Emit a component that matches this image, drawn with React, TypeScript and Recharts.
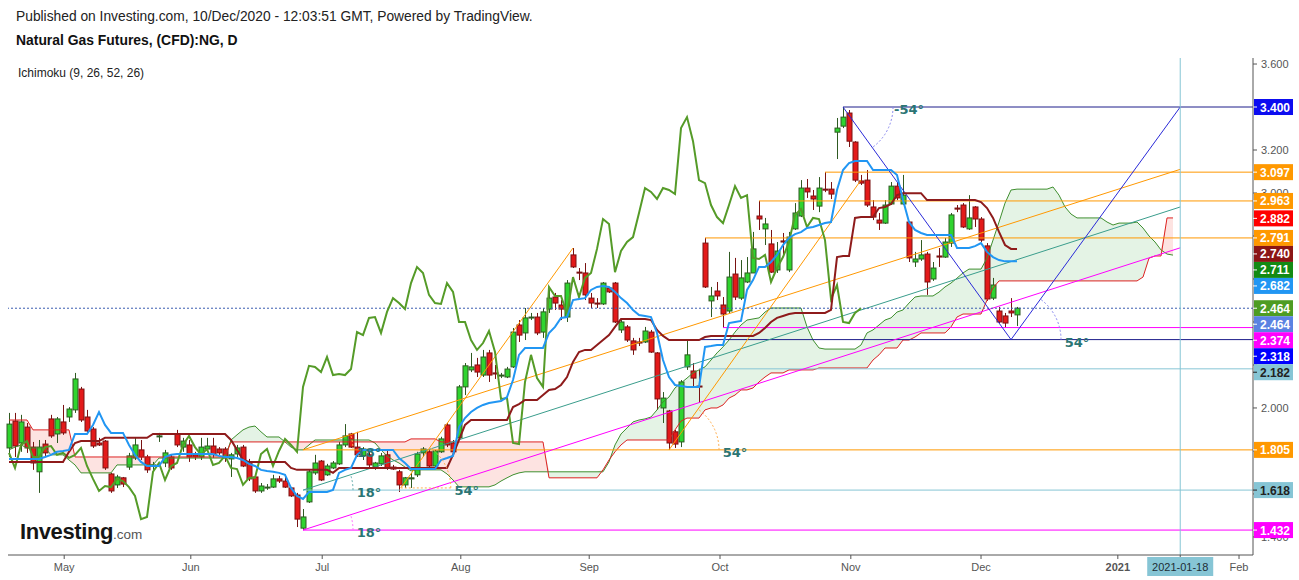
import React from 'react';
import { ComposedChart, XAxis, YAxis, Line, Area, Bar, Scatter, ReferenceLine } from 'recharts';

// ---------- candles (daily, Apr 2020 - 10 Dec 2020) ----------
const opens = [1.814,1.939,1.837,1.911,1.818,1.703,1.832,1.949,1.879,1.935,1.958,1.991,2.088,1.958,1.902,1.837,1.846,1.693,1.642,1.675,1.725,1.767,1.805,1.772,1.730,1.866,1.744,1.772,1.879,1.818,1.828,1.782,1.772,1.809,1.823,1.809,1.809,1.763,1.786,1.818,1.749,1.679,1.614,1.628,1.632,1.670,1.660,1.628,1.595,1.441,1.563,1.698,1.753,1.689,1.721,1.740,1.828,1.879,1.818,1.777,1.782,1.725,1.740,1.782,1.725,1.703,1.642,1.670,1.689,1.791,1.796,1.730,1.796,1.921,1.837,1.861,2.098,2.177,2.200,2.153,2.256,2.163,2.149,2.144,2.191,2.386,2.349,2.419,2.423,2.353,2.460,2.516,2.479,2.423,2.712,2.632,2.628,2.511,2.488,2.484,2.558,2.581,2.363,2.377,2.312,2.307,2.307,2.353,2.256,2.000,1.986,1.889,1.842,2.191,2.172,2.102,2.767,2.498,2.544,2.479,2.451,2.623,2.511,2.586,2.628,2.893,2.833,2.763,2.642,2.777,2.642,2.833,2.893,3.023,2.986,2.939,3.018,3.018,3.283,3.311,3.372,3.237,3.056,3.060,2.935,2.874,2.860,2.949,3.032,2.949,2.865,2.679,2.693,2.716,2.600,2.707,2.702,2.767,2.930,2.944,2.833,2.935,2.879,2.754,2.511,2.451,2.428,2.451,2.433];
const highs = [1.977,1.977,1.968,1.930,1.842,1.851,1.851,1.968,1.958,2.014,2.004,2.163,2.098,1.991,1.911,1.861,1.851,1.698,1.689,1.679,1.791,1.861,1.851,1.782,1.749,1.884,1.805,1.782,1.898,1.861,1.851,1.796,1.861,1.861,1.861,1.818,1.818,1.791,1.828,1.828,1.763,1.689,1.651,1.646,1.689,1.684,1.679,1.632,1.605,1.530,1.712,1.782,1.758,1.740,1.753,1.842,1.925,1.884,1.889,1.818,1.805,1.749,1.791,1.805,1.735,1.712,1.679,1.698,1.796,1.818,1.805,1.805,1.866,1.930,1.851,2.107,2.209,2.256,2.233,2.270,2.270,2.200,2.163,2.191,2.372,2.409,2.465,2.442,2.442,2.465,2.563,2.535,2.502,2.595,2.744,2.651,2.674,2.535,2.511,2.586,2.563,2.586,2.409,2.386,2.326,2.326,2.377,2.363,2.260,2.074,1.991,1.898,2.130,2.318,2.209,2.182,2.791,2.563,2.586,2.516,2.726,2.698,2.688,2.702,2.819,2.963,2.884,2.828,2.772,2.814,2.819,2.953,3.060,3.065,3.014,3.074,3.097,3.051,3.349,3.400,3.386,3.241,3.084,3.107,2.967,2.907,2.967,3.051,3.051,3.084,2.870,2.726,2.781,2.726,2.679,2.744,2.791,2.907,2.944,2.953,2.990,2.939,2.888,2.767,2.605,2.470,2.442,2.511,2.470];
const lows = [1.772,1.772,1.796,1.791,1.712,1.605,1.772,1.861,1.837,1.875,1.935,1.977,1.935,1.884,1.814,1.823,1.712,1.605,1.628,1.632,1.712,1.758,1.758,1.698,1.712,1.842,1.725,1.712,1.818,1.796,1.749,1.758,1.758,1.800,1.768,1.782,1.749,1.679,1.772,1.725,1.660,1.605,1.605,1.619,1.628,1.651,1.628,1.586,1.446,1.432,1.558,1.689,1.660,1.684,1.716,1.735,1.818,1.814,1.772,1.758,1.725,1.712,1.730,1.712,1.712,1.609,1.628,1.628,1.679,1.772,1.721,1.721,1.791,1.818,1.791,1.851,2.060,2.167,2.144,2.144,2.121,2.135,2.139,2.139,2.186,2.307,2.316,2.409,2.339,2.326,2.442,2.456,2.409,2.400,2.651,2.595,2.502,2.465,2.465,2.479,2.535,2.395,2.349,2.307,2.247,2.288,2.302,2.256,1.991,1.930,1.805,1.814,1.818,2.177,2.098,2.028,2.558,2.423,2.502,2.374,2.442,2.502,2.502,2.581,2.628,2.828,2.758,2.628,2.628,2.702,2.632,2.828,2.888,2.977,2.921,2.911,3.004,2.972,3.158,3.302,3.214,3.051,3.037,2.935,2.874,2.828,2.856,2.944,2.967,2.944,2.679,2.656,2.684,2.526,2.591,2.656,2.698,2.749,2.911,2.837,2.828,2.842,2.772,2.498,2.502,2.395,2.372,2.423,2.381];
const closes = [1.925,1.823,1.935,1.814,1.744,1.818,1.791,1.870,1.949,1.884,1.995,2.135,1.944,1.893,1.823,1.828,1.721,1.614,1.679,1.646,1.777,1.828,1.772,1.712,1.735,1.870,1.791,1.721,1.828,1.846,1.772,1.772,1.818,1.823,1.782,1.791,1.768,1.782,1.814,1.730,1.670,1.614,1.637,1.632,1.670,1.660,1.632,1.591,1.483,1.493,1.703,1.744,1.665,1.730,1.744,1.828,1.870,1.818,1.782,1.809,1.735,1.744,1.777,1.721,1.716,1.642,1.675,1.675,1.786,1.809,1.730,1.800,1.856,1.828,1.796,2.098,2.196,2.191,2.167,2.237,2.153,2.158,2.153,2.181,2.353,2.339,2.419,2.423,2.349,2.447,2.511,2.488,2.460,2.581,2.656,2.628,2.526,2.488,2.484,2.581,2.540,2.400,2.400,2.316,2.270,2.302,2.358,2.260,2.042,2.046,1.837,1.832,2.121,2.247,2.139,2.098,2.563,2.521,2.521,2.437,2.609,2.516,2.605,2.628,2.740,2.879,2.856,2.632,2.730,2.772,2.795,2.907,3.023,3.005,2.972,3.023,3.014,2.995,3.302,3.353,3.241,3.060,3.046,2.944,2.888,2.860,2.944,3.032,2.977,2.990,2.698,2.693,2.712,2.586,2.651,2.702,2.772,2.898,2.925,2.842,2.884,2.879,2.781,2.507,2.572,2.400,2.395,2.442,2.464];

// ---------- Ichimoku lines: [value, number of bars] ----------
const tenkanRuns: [number, number][] = [[1.763,6],[1.772,1],[1.782,1],[1.796,1],[1.800,1],[1.805,1],[1.879,3],[1.921,1],[1.981,1],[1.921,1],[1.884,3],[1.828,1],[1.782,1],[1.749,1],[1.730,3],[1.772,1],[1.782,1],[1.786,7],[1.777,1],[1.772,2],[1.767,1],[1.758,1],[1.740,1],[1.730,1],[1.712,1],[1.707,1],[1.703,1],[1.698,1],[1.689,1],[1.628,1],[1.591,1],[1.577,1],[1.609,4],[1.619,1],[1.698,1],[1.712,1],[1.721,1],[1.782,1],[1.805,6],[1.767,1],[1.744,1],[1.716,5],[1.758,1],[1.767,1],[1.777,1],[1.911,1],[1.953,1],[1.981,1],[2.000,1],[2.014,1],[2.023,1],[2.028,1],[2.032,1],[2.051,1],[2.130,1],[2.247,1],[2.279,4],[2.349,1],[2.377,1],[2.419,1],[2.423,1],[2.502,1],[2.507,1],[2.511,1],[2.549,1],[2.563,1],[2.567,1],[2.563,1],[2.540,1],[2.511,1],[2.488,1],[2.456,1],[2.432,1],[2.428,1],[2.423,1],[2.349,1],[2.223,1],[2.144,1],[2.107,1],[2.102,1],[2.098,3],[2.284,1],[2.288,1],[2.293,2],[2.395,1],[2.400,1],[2.405,1],[2.549,1],[2.595,1],[2.656,2],[2.679,1],[2.712,1],[2.758,1],[2.791,1],[2.809,1],[2.818,1],[2.837,1],[2.842,1],[2.851,1],[2.860,1],[2.865,1],[3.014,1],[3.107,1],[3.139,1],[3.149,3],[3.107,4],[3.084,1],[2.967,1],[2.865,1],[2.828,1],[2.814,1],[2.805,5],[2.744,3],[2.753,1],[2.767,1],[2.726,1],[2.702,1],[2.688,1],[2.682,3]];
const kijunRuns: [number, number][] = [[1.749,10],[1.796,1],[1.837,1],[1.846,4],[1.861,8],[1.879,13],[1.851,1],[1.805,1],[1.758,1],[1.749,7],[1.721,1],[1.712,6],[1.698,1],[1.721,19],[1.782,1],[1.851,1],[1.921,1],[1.944,7],[2.004,1],[2.018,1],[2.037,3],[2.060,1],[2.084,1],[2.088,1],[2.107,1],[2.144,1],[2.214,1],[2.260,1],[2.270,2],[2.293,1],[2.316,1],[2.339,1],[2.377,1],[2.414,5],[2.409,1],[2.363,1],[2.335,1],[2.316,6],[2.330,1],[2.335,8],[2.349,1],[2.372,1],[2.400,1],[2.419,1],[2.428,1],[2.437,1],[2.442,6],[2.456,1],[2.702,1],[2.707,2],[2.884,1],[2.888,3],[2.930,1],[2.935,1],[2.949,1],[2.990,1],[2.999,4],[2.967,9],[2.958,1],[2.930,1],[2.884,1],[2.819,1],[2.758,1],[2.740,2]];
const senkouARuns: [number, number][] = [[1.805,1],[1.818,1],[1.828,1],[1.814,4],[1.782,3],[1.758,1],[1.735,1],[1.698,6],[1.735,7],[1.767,12],[1.851,1],[1.875,1],[1.898,1],[1.911,1],[1.916,1],[1.889,1],[1.865,3],[1.842,1],[1.818,1],[1.805,2],[1.828,1],[1.851,10],[1.837,1],[1.805,1],[1.777,1],[1.758,1],[1.744,1],[1.725,1],[1.707,1],[1.712,5],[1.693,1],[1.665,1],[1.633,6],[1.642,1],[1.660,1],[1.675,1],[1.689,1],[1.698,1],[1.703,14],[1.749,1],[1.828,1],[1.879,1],[1.907,1],[1.935,1],[1.944,1],[1.949,1],[1.958,1],[1.991,1],[2.028,1],[2.051,1],[2.093,1],[2.116,1],[2.139,1],[2.163,1],[2.177,1],[2.191,1],[2.223,1],[2.256,1],[2.284,1],[2.316,1],[2.353,1],[2.386,1],[2.409,1],[2.414,1],[2.419,1],[2.446,1],[2.465,6],[2.377,1],[2.316,1],[2.279,1],[2.274,6],[2.293,1],[2.349,1],[2.363,1],[2.386,1],[2.409,1],[2.419,1],[2.446,1],[2.456,1],[2.488,1],[2.516,1],[2.521,3],[2.539,1],[2.563,1],[2.581,1],[2.604,1],[2.628,1],[2.646,3],[2.697,1],[2.781,1],[2.865,1],[2.953,1],[3.014,1],[3.018,6],[3.028,1],[2.990,1],[2.935,1],[2.902,1],[2.884,5],[2.865,1],[2.851,1],[2.860,3],[2.865,1],[2.837,1],[2.800,1],[2.772,1],[2.735,1],[2.716,1],[2.711,1]];
const senkouBRuns: [number, number][] = [[1.944,4],[1.898,7],[1.772,26],[1.842,30],[1.856,5],[1.842,18],[1.675,9],[1.712,1],[1.758,1],[1.796,1],[1.828,1],[1.851,8],[1.898,1],[1.939,1],[1.953,3],[1.991,1],[2.000,2],[2.014,1],[2.046,1],[2.060,1],[2.084,2],[2.093,1],[2.121,1],[2.144,1],[2.163,3],[2.177,5],[2.186,9],[2.223,1],[2.247,1],[2.279,3],[2.316,2],[2.330,1],[2.349,5],[2.377,1],[2.423,1],[2.437,4],[2.502,1],[2.558,1],[2.591,24],[2.609,1],[2.697,1],[2.707,2],[2.884,2]];
const CHIKOU_SHIFT = 26;
const CLOUD_BARS = 195;

// ---------- axes ----------
const xTickPos = [9.2, 30.3, 52.2, 75.3, 96.7, 118.5, 140.3, 162, 184.8, 195.2, 205];
const xTickLabels = ['May', 'Jun', 'Jul', 'Aug', 'Sep', 'Oct', 'Nov', 'Dec', '2021', '2021-01-18', 'Feb'];
const yTicks = [1.4, 1.6, 1.8, 2.0, 2.2, 2.4, 2.6, 2.8, 3.0, 3.2, 3.4, 3.6];
// tick labels that the price tags leave visible on the price scale
const yTickLabels = ['1.400', '', '', '2.000', '', '', '', '', '3.000', '3.200', '', '3.600'];
const X_MIN = -0.1667;
const X_MAX = 207.33;
const Y_MIN = 1.316;
const Y_MAX = 3.628;
const MARK_DATE = 195.2;
const LAST_PRICE = 2.464;

// ---------- drawings ----------
const ORANGE = '#ff9800';
const NAVY = '#1c1c8a';
const BLUE = '#2a2ad8';
const MAGENTA = '#ff00ff';
const CYAN = '#86c5d5';
const TEAL = '#3a9d8c';
const FONT = "Arial, 'Liberation Sans', sans-serif";

const levels = [
  { from: 139, price: 3.4, color: NAVY },
  { from: 136, price: 3.097, color: ORANGE },
  { from: 125, price: 2.963, color: ORANGE },
  { from: 116, price: 2.791, color: ORANGE },
  { from: 119, price: 2.374, color: MAGENTA },
  { from: 113, price: 2.318, color: NAVY },
  { from: 115, price: 2.182, color: CYAN },
  { from: 49, price: 1.805, color: ORANGE },
  { from: 49, price: 1.618, color: CYAN },
  { from: 49, price: 1.432, color: MAGENTA },
];
const trendLines = [
  { x1: 49, y1: 1.432, x2: 195.2, y2: 2.745, color: MAGENTA },
  { x1: 49, y1: 1.618, x2: 195.2, y2: 2.935, color: TEAL },
  { x1: 49, y1: 1.805, x2: 195.2, y2: 3.11, color: ORANGE },
  { x1: 65.3, y1: 1.628, x2: 94, y2: 2.744, color: ORANGE },
  { x1: 110, y1: 1.805, x2: 142, y2: 3.06, color: ORANGE },
  { x1: 139, y1: 3.4, x2: 167, y2: 2.318, color: BLUE },
  { x1: 167, y1: 2.318, x2: 195.2, y2: 3.4, color: BLUE },
];
const angleMarks = [
  { i: 49, p: 1.432, deg: 18, text: '18°', arc: '#ff77ff', base: false },
  { i: 49, p: 1.618, deg: 18, text: '18°', arc: '#66b0b0', base: false },
  { i: 49, p: 1.805, deg: 18, text: '18°', arc: '#ffb050', base: false },
  { i: 65.3, p: 1.628, deg: 54, text: '54°', arc: '#ffb050', base: true },
  { i: 110, p: 1.805, deg: 54, text: '54°', arc: '#ffb050', base: false },
  { i: 139, p: 3.4, deg: -54, text: '-54°', arc: '#8a8aee', base: false },
  { i: 167, p: 2.318, deg: 54, text: '54°', arc: '#8a8aee', base: false },
];
const priceTags = [
  { v: 3.4, bg: '#0c0cf0', fg: '#fff' },
  { v: 3.097, bg: '#ff9800', fg: '#fff' },
  { v: 2.963, bg: '#ff9800', fg: '#fff' },
  { v: 2.882, bg: '#ff0000', fg: '#fff' },
  { v: 2.791, bg: '#ff9800', fg: '#fff' },
  { v: 2.74, bg: '#8b1515', fg: '#fff' },
  { v: 2.711, bg: '#138a13', fg: '#fff' },
  { v: 2.682, bg: '#2196f3', fg: '#fff' },
  { v: 2.464, bg: '#4e9c22', fg: '#fff' },
  { v: 2.464, bg: '#5b82e2', fg: '#fff' },
  { v: 2.374, bg: '#ff00ff', fg: '#fff' },
  { v: 2.318, bg: '#0000ff', fg: '#fff' },
  { v: 2.182, bg: '#86c5d5', fg: '#222' },
  { v: 1.805, bg: '#ff9800', fg: '#fff' },
  { v: 1.618, bg: '#86c5d5', fg: '#222' },
  { v: 1.432, bg: '#ff00ff', fg: '#fff' },
];

// ---------- table built from the arrays ----------
const expand = (runs: [number, number][]) => runs.flatMap(([v, n]) => Array(n).fill(v) as number[]);
const tenkan = expand(tenkanRuns);
const kijun = expand(kijunRuns);
const spanA = expand(senkouARuns);
const spanB = expand(senkouBRuns);

const rows = Array.from({ length: CLOUD_BARS }, (_, i) => {
  const has = i < opens.length;
  const a = spanA[i];
  const b = spanB[i];
  const ok = a != null && b != null;
  return {
    i,
    o: has ? opens[i] : undefined,
    h: has ? highs[i] : undefined,
    l: has ? lows[i] : undefined,
    c: has ? closes[i] : undefined,
    range: has ? [lows[i], highs[i]] : undefined,
    tenkan: tenkan[i],
    kijun: kijun[i],
    chikou: i + CHIKOU_SHIFT < closes.length ? closes[i + CHIKOU_SHIFT] : undefined,
    spanA: a,
    spanB: b,
    cloudUp: ok ? [b, Math.max(a, b)] : undefined,
    cloudDown: ok ? [a, Math.max(a, b)] : undefined,
  };
});

const tagRows = priceTags.map((t, k) => ({ ...t, k, i: X_MAX, p: t.v }));
const yTickRows = yTicks.map((v, k) => ({ i: X_MAX, p: v, label: yTickLabels[k] }));

// ---------- shapes ----------
function Candle(props: any) {
  const { x, y, width, height, payload } = props;
  if (!payload || payload.o == null || !isFinite(y) || !isFinite(height)) return null;
  const top = Math.min(y, y + height);
  const bot = Math.max(y, y + height);
  const { o, h, l, c } = payload;
  const py = (v: number) => (h === l ? top : top + ((h - v) / (h - l)) * (bot - top));
  const cx = Math.round(x + width / 2) + 0.5;
  const up = c >= o;
  const fill = up ? '#2fd42f' : '#e31a1a';
  const stroke = up ? '#2f5a22' : '#7a1212';
  const bt = py(Math.max(o, c));
  const bb = py(Math.min(o, c));
  return (
    <g>
      <line x1={cx} x2={cx} y1={top} y2={bot} stroke={stroke} strokeWidth={1} />
      <rect x={cx - 2.5} y={bt} width={5} height={Math.max(1, bb - bt)} fill={fill} stroke={stroke} strokeWidth={1} />
    </g>
  );
}

function YTickMark(props: any) {
  const { cx, cy, payload } = props;
  if (cx == null || cy == null || !isFinite(cy)) return null;
  return (
    <g>
      <line x1={cx} x2={cx + 4} y1={cy} y2={cy} stroke="#555" strokeWidth={1} />
      {payload.label ? (
        <text x={cx + 8} y={cy + 4} fill="#555" fontSize={11} fontFamily={FONT}>{payload.label}</text>
      ) : null}
    </g>
  );
}

const tagY: number[] = [];
function PriceTag(props: any) {
  const { cx, cy, payload } = props;
  if (cx == null || cy == null || !isFinite(cy)) return null;
  const k = payload.k;
  let yy = cy;
  if (k > 0 && tagY[k - 1] != null && yy < tagY[k - 1] + 16) yy = tagY[k - 1] + 16;
  tagY[k] = yy;
  return (
    <g>
      <rect x={cx + 1} y={yy - 8} width={39} height={16} fill={payload.bg} />
      <line x1={cx} x2={cx + 4} y1={yy} y2={yy} stroke={payload.fg} strokeWidth={1} />
      <text x={cx + 7} y={yy + 4.5} fill={payload.fg} fontSize={12} fontWeight="bold" fontFamily={FONT}>
        {payload.v.toFixed(3)}
      </text>
    </g>
  );
}

function AngleMark(props: any) {
  const { cx, cy, payload } = props;
  if (cx == null || cy == null || !isFinite(cx) || !isFinite(cy)) return null;
  const r = 50;
  const th = (payload.deg * Math.PI) / 180;
  const ex = cx + r * Math.cos(th);
  const ey = cy - r * Math.sin(th);
  const sweep = payload.deg > 0 ? 0 : 1;
  return (
    <g>
      {payload.base && <line x1={cx} y1={cy} x2={cx + r} y2={cy} stroke={payload.arc} strokeDasharray="2 2" />}
      <path d={`M${cx + r},${cy} A${r},${r} 0 0 ${sweep} ${ex},${ey}`} fill="none" stroke={payload.arc} strokeDasharray="2 2" />
      <text x={cx + 66} y={cy + 7} textAnchor="middle" fill="#2b7574" fontSize={13} fontWeight="bold" fontFamily="'DejaVu Sans', sans-serif">
        {payload.text}
      </text>
    </g>
  );
}

function XTick(props: any) {
  const { x, y, payload } = props;
  const idx = xTickPos.indexOf(payload.value);
  const label = idx >= 0 ? xTickLabels[idx] : '';
  if (payload.value === MARK_DATE) {
    return (
      <g>
        <rect x={x - 33} y={y - 4} width={66} height={19} fill={CYAN} />
        <text x={x} y={y + 10} textAnchor="middle" fontSize={11} fill="#1e2e36" fontFamily={FONT}>{label}</text>
      </g>
    );
  }
  return (
    <text x={x} y={y + 10} textAnchor="middle" fontSize={11} fill="#555" fontWeight={label === '2021' ? 'bold' : 'normal'} fontFamily={FONT}>
      {label}
    </text>
  );
}

export default function App() {
  return (
    <div style={{ position: 'absolute', left: 0, top: 0, width: 1299, height: 580, background: '#fff', overflow: 'hidden' }}>
      <ComposedChart width={1299} height={580} data={rows} margin={{ top: 58, right: 0, bottom: 0, left: 8 }}>
        <XAxis
          dataKey="i"
          type="number"
          domain={[X_MIN, X_MAX]}
          ticks={xTickPos}
          interval={0}
          height={25}
          tickSize={4}
          tickMargin={2}
          axisLine={{ stroke: '#555' }}
          tickLine={{ stroke: '#555' }}
          tick={<XTick />}
        />
        <YAxis
          orientation="right"
          type="number"
          domain={[Y_MIN, Y_MAX]}
          ticks={yTicks}
          width={46}
          axisLine={{ stroke: '#555' }}
          tickLine={false}
          tick={false}
        />
        <Area dataKey="cloudUp" type="linear" stroke="none" fill="#4caf50" fillOpacity={0.15} isAnimationActive={false} />
        <Area dataKey="cloudDown" type="linear" stroke="none" fill="#f44336" fillOpacity={0.15} isAnimationActive={false} />
        <Line dataKey="spanA" type="linear" stroke="#3f8f2f" strokeWidth={1} dot={false} isAnimationActive={false} />
        <Line dataKey="spanB" type="linear" stroke="#dd2222" strokeWidth={1} dot={false} isAnimationActive={false} />

        {levels.map((lv, k) => (
          <ReferenceLine key={'lv' + k} segment={[{ x: lv.from, y: lv.price }, { x: X_MAX, y: lv.price }]} stroke={lv.color} strokeWidth={1} />
        ))}
        {trendLines.map((t, k) => (
          <ReferenceLine key={'tl' + k} segment={[{ x: t.x1, y: t.y1 }, { x: t.x2, y: t.y2 }]} stroke={t.color} strokeWidth={1} />
        ))}
        <ReferenceLine y={LAST_PRICE} stroke="#3a5cb0" strokeDasharray="2 2" />
        <ReferenceLine x={MARK_DATE} stroke={CYAN} />

        <Bar dataKey="range" barSize={5} shape={<Candle />} isAnimationActive={false} />

        <Line dataKey="chikou" type="linear" stroke="#559b28" strokeWidth={2} dot={false} isAnimationActive={false} />
        <Line dataKey="kijun" type="linear" stroke="#8e1b1b" strokeWidth={2} dot={false} isAnimationActive={false} />
        <Line dataKey="tenkan" type="linear" stroke="#2196f3" strokeWidth={2} dot={false} isAnimationActive={false} />

        <Scatter data={angleMarks} dataKey="p" shape={AngleMark} isAnimationActive={false} />
        <Scatter data={yTickRows} dataKey="p" shape={YTickMark} isAnimationActive={false} />
        <Scatter data={tagRows} dataKey="p" shape={PriceTag} isAnimationActive={false} />
      </ComposedChart>

      <div style={{ position: 'absolute', left: 16, top: 9, fontFamily: FONT, fontSize: 13.8, color: '#222', whiteSpace: 'nowrap' }}>
        Published on Investing.com, 10/Dec/2020 - 12:03:51 GMT, Powered by TradingView.
      </div>
      <div style={{ position: 'absolute', left: 16, top: 32, fontFamily: FONT, fontSize: 13.9, fontWeight: 'bold', color: '#111', whiteSpace: 'nowrap' }}>
        Natural Gas Futures, (CFD):NG, D
      </div>
      <div style={{ position: 'absolute', left: 18, top: 66, fontFamily: FONT, fontSize: 12, color: '#222', whiteSpace: 'nowrap' }}>
        Ichimoku (9, 26, 52, 26)
      </div>
      <div style={{ position: 'absolute', left: 20, top: 518, fontFamily: FONT, whiteSpace: 'nowrap', lineHeight: '28px' }}>
        <span style={{ fontSize: 22, fontWeight: 'bold', color: '#151515', letterSpacing: -0.4 }}>Investing</span>
        <span style={{ fontSize: 13.5, color: '#555' }}>.com</span>
      </div>
    </div>
  );
}
